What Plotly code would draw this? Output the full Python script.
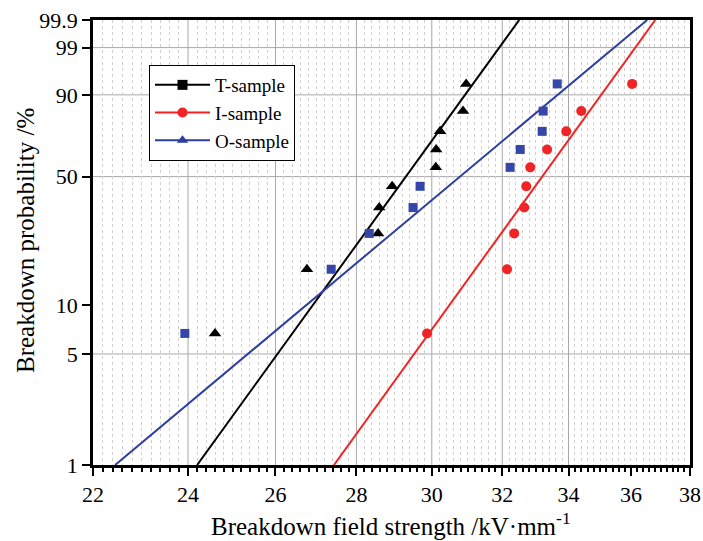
import numpy as np
import plotly.graph_objects as go

# ---------------- data ----------------
rank_pct = [6.7, 16.3, 26.0, 35.6, 45.2, 54.8, 64.4, 74.0, 83.7, 93.3]
t_field = [24.60, 26.76, 28.56, 28.59, 28.93, 30.11, 30.12, 30.23, 30.87, 30.96]
i_field = [29.87, 32.14, 32.35, 32.65, 32.71, 32.83, 33.34, 33.93, 34.40, 36.04]
o_field = [23.93, 27.36, 28.33, 29.49, 29.68, 32.23, 32.53, 33.19, 33.22, 33.65]

fit_pct = [1, 99.9]
t_fit_field = [24.20, 32.50]
i_fit_field = [27.43, 36.81]
o_fit_field = [22.45, 36.54]

x_ticks = [22, 24, 26, 28, 30, 32, 34, 36, 38]
x_grid = [24, 26, 28, 30, 32, 34]
y_tick_pct = [1, 5, 10, 50, 90, 99, 99.9]
y_tick_text = ["1", "5", "10", "50", "90", "99", "99.9"]
y_grid_pct = [5, 50, 90, 99]

names = ["T-sample", "I-sample", "O-sample"]
legend_symbols = ["square", "circle", "triangle-up"]
colors = ["#000000", "#f02424", "#2e3f9e"]


def weib(p):
    """Weibull probability scale: ln(-ln(1-p))."""
    return np.log(-np.log(1 - np.asarray(p, dtype=float) / 100.0))


FONT = "Liberation Serif, Times New Roman, serif"

W, H = 703, 541
PL, PT, PW, PH = 93, 20, 597, 445  # plot area

fig = go.Figure()

# legend-only entries (as in original legend)
for n, s, c in zip(names, legend_symbols, colors):
    fig.add_trace(go.Scatter(x=[None], y=[None], mode="lines+markers", name=n,
                             line=dict(color=c, width=2),
                             marker=dict(symbol=s, size=10, color=c)))

# fit lines
for xf, c in zip([t_fit_field, i_fit_field, o_fit_field], colors):
    fig.add_trace(go.Scatter(x=xf, y=weib(fit_pct), mode="lines",
                             line=dict(color=c, width=2), showlegend=False,
                             hoverinfo="skip"))

# data points (markers as drawn in the plot)
fig.add_trace(go.Scatter(x=t_field, y=weib(rank_pct), mode="markers", showlegend=False,
                         marker=dict(symbol="triangle-up", size=11, color=colors[0])))
fig.add_trace(go.Scatter(x=i_field, y=weib(rank_pct), mode="markers", showlegend=False,
                         marker=dict(symbol="circle", size=10, color=colors[1])))
fig.add_trace(go.Scatter(x=o_field, y=weib(rank_pct), mode="markers", showlegend=False,
                         marker=dict(symbol="square", size=9, color="#3546a8")))

shapes = []
for gx in x_grid:
    shapes.append(dict(type="line", xref="x", yref="paper", x0=gx, x1=gx, y0=0, y1=1,
                       layer="below", line=dict(color="#a8a8a8", width=1)))
for gp in y_grid_pct:
    gy = float(weib(gp))
    shapes.append(dict(type="line", xref="paper", yref="y", x0=0, x1=1, y0=gy, y1=gy,
                       layer="below", line=dict(color="#a8a8a8", width=1)))

minor_vals = [round(22 + 0.2 * k, 1) for k in range(1, 80)]
minor_vals = [v for v in minor_vals if v not in x_ticks or v == 36]

fig.update_layout(
    width=W, height=H,
    margin=dict(l=PL, r=W - PL - PW, t=PT, b=H - PT - PH, autoexpand=False),
    paper_bgcolor="white", plot_bgcolor="white",
    font=dict(family=FONT, color="black", size=22),
    shapes=shapes,
    showlegend=True,
    legend=dict(x=(149 - PL) / PW, y=(PT + PH - 65) / PH, xanchor="left", yanchor="top",
                bgcolor="white", bordercolor="black", borderwidth=1,
                font=dict(family=FONT, size=19, color="black"),
                itemwidth=55, tracegroupgap=0),
    xaxis=dict(type="log", range=[np.log10(22), np.log10(38)],
               tickmode="array", tickvals=x_ticks, ticktext=[str(v) for v in x_ticks],
               showgrid=False, zeroline=False, ticklabeloverflow="allow",
               showline=True, linecolor="black", linewidth=2.5, mirror=True,
               ticks="outside", ticklen=8, tickwidth=2, tickcolor="black",
               tickfont=dict(size=22),
               minor=dict(tickmode="array", tickvals=minor_vals, ticks="outside",
                          ticklen=4, tickwidth=1.5, tickcolor="black",
                          showgrid=True, gridcolor="#cfcfcf", griddash="dot", gridwidth=1)),
    yaxis=dict(range=[float(weib(1)), float(weib(99.9))],
               tickmode="array", tickvals=list(weib(y_tick_pct)), ticktext=y_tick_text,
               showgrid=False, zeroline=False, ticklabeloverflow="allow",
               showline=True, linecolor="black", linewidth=2.5, mirror=True,
               ticks="outside", ticklen=8, tickwidth=2, tickcolor="black",
               tickfont=dict(size=22)),
    annotations=[
        dict(text="Breakdown probability /%", xref="paper", yref="paper",
             x=(25 - PL) / PW, y=(PT + PH - 241) / PH, xanchor="center", yanchor="middle",
             textangle=-90, showarrow=False, font=dict(family=FONT, size=25)),
        dict(text="Breakdown field strength /kV·mm<sup>-1</sup>", xref="paper", yref="paper",
             x=(391 - PL) / PW, y=(PT + PH - 524) / PH, xanchor="center", yanchor="middle",
             showarrow=False, font=dict(family=FONT, size=25)),
    ],
)

fig.write_html(
    "out.html",
    config={"displayModeBar": False},
    post_script="document.body.style.margin='0px';document.body.style.overflow='hidden';",
)
